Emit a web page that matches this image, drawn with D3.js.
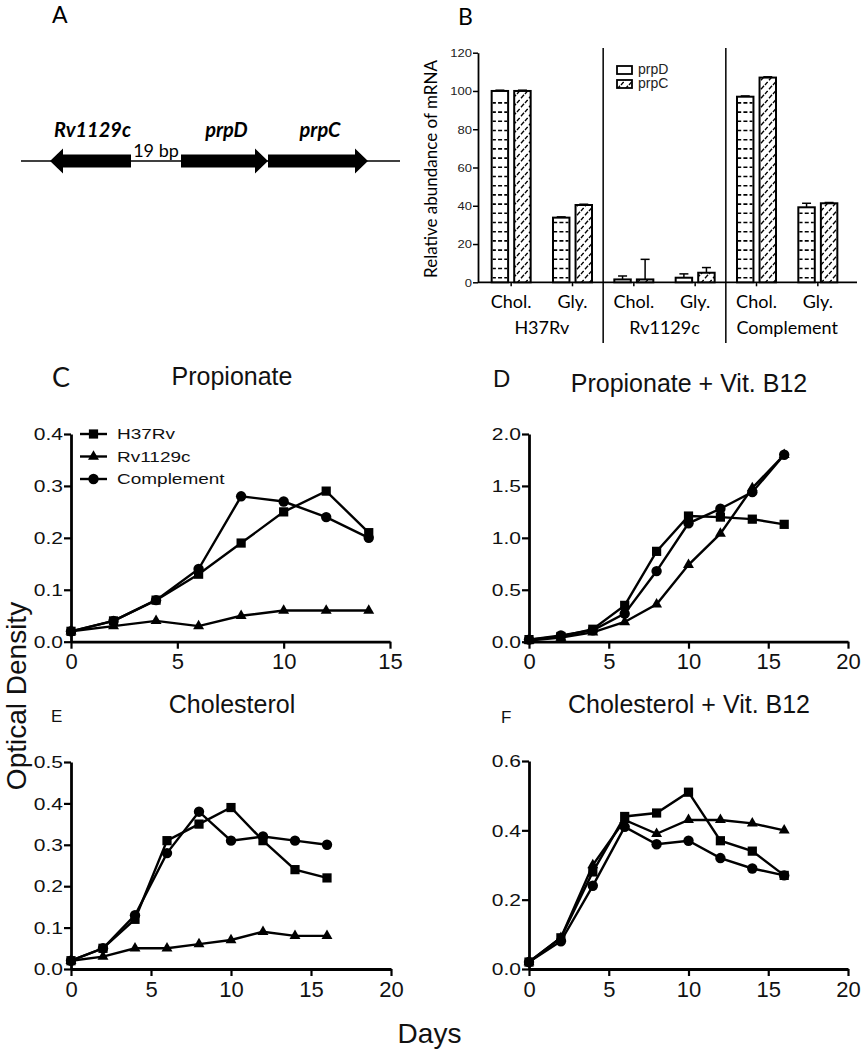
<!DOCTYPE html>
<html><head><meta charset="utf-8">
<script src="https://cdn.jsdelivr.net/npm/d3@7"></script>
<style>
body{margin:0;background:#fff}
svg{display:block}
</style></head><body>
<svg id="c" width="861" height="1050"></svg>
<script>
// ---------- DATA ----------
// Panel A: gene map (nominal positions, bp-like units)
const geneNames = ["Rv1129c","prpD","prpC"];
const geneStart = [29,160,247];
const geneEnd = [110,247,347];
const geneStrand = [-1,1,1];
const mapLength = 379;
const gapLabel = "19 bp";

// Panel B: relative mRNA abundance
const strains = ["H37Rv","Rv1129c","Complement"];
const conditions = ["Chol.","Gly."];
const barGenes = ["prpD","prpC"];
const prpDValues = [100, 33.8, 1.5, 2.4, 97, 39.2];
const prpCValues = [100, 40.4, 1.5, 5.0, 107, 41.3];
const prpDErr = [0.4, 0.4, 1.8, 2.0, 0.4, 2.1];
const prpCErr = [0.4, 0.4, 10.5, 2.7, 0.4, 0.4];
const mrnaTicks = [0,20,40,60,80,100,120];

// Panels C-F: optical density
const seriesNames = ["H37Rv","Rv1129c","Complement"];
const propDays = [0,2,4,6,8,10,12,14];
const propH37Rv = [0.02,0.04,0.08,0.13,0.19,0.25,0.29,0.21];
const propRv1129c = [0.02,0.03,0.04,0.03,0.05,0.06,0.06,0.06];
const propComplement = [0.02,0.04,0.08,0.14,0.28,0.27,0.24,0.20];

const propB12Days = [0,2,4,6,8,10,12,14,16];
const propB12H37Rv = [0.02,0.05,0.12,0.35,0.87,1.21,1.20,1.18,1.13];
const propB12Rv1129c = [0.01,0.04,0.09,0.19,0.36,0.74,1.04,1.48,1.80];
const propB12Complement = [0.02,0.06,0.11,0.27,0.68,1.14,1.28,1.44,1.80];

const cholDays = [0,2,4,6,8,10,12,14,16];
const cholH37Rv = [0.02,0.05,0.12,0.31,0.35,0.39,0.31,0.24,0.22];
const cholRv1129c = [0.02,0.03,0.05,0.05,0.06,0.07,0.09,0.08,0.08];
const cholComplement = [0.02,0.05,0.13,0.28,0.38,0.31,0.32,0.31,0.30];

const cholB12Days = [0,2,4,6,8,10,12,14,16];
const cholB12H37Rv = [0.02,0.09,0.28,0.44,0.45,0.51,0.37,0.34,0.27];
const cholB12Rv1129c = [0.02,0.09,0.30,0.43,0.39,0.43,0.43,0.42,0.40];
const cholB12Complement = [0.02,0.08,0.24,0.41,0.36,0.37,0.32,0.29,0.27];

const ticks15 = [0,5,10,15];
const ticks20 = [0,5,10,15,20];
const odTicksC = [0,0.1,0.2,0.3,0.4];
const odTicksD = [0,0.5,1.0,1.5,2.0];
const odTicksE = [0,0.1,0.2,0.3,0.4,0.5];
const odTicksF = [0,0.2,0.4,0.6];

// ---------- DRAW ----------
const svg = d3.select("#c");
const ARIAL = "'Liberation Sans', Arial, sans-serif";
const CAL = "Lato, 'Open Sans', sans-serif";

// ===== Panel A =====
(function(){
  const x = d3.scaleLinear().domain([0,mapLength]).range([21,400]);
  const yc = 161, bh = 6.5, hh = 12.5, hl = 13;
  svg.append("text").attr("x",52).attr("y",23).text("A")
    .style("font-family",CAL).style("font-size","23px");
  svg.append("line").attr("x1",x(0)).attr("x2",x(mapLength)).attr("y1",yc).attr("y2",yc)
    .attr("stroke","#000").attr("stroke-width",1.3);
  geneNames.forEach((n,i)=>{
    const s = x(geneStart[i]), e = x(geneEnd[i]);
    let pts;
    if (geneStrand[i] < 0) {
      pts = [[s,yc],[s+hl,yc-hh],[s+hl,yc-bh],[e,yc-bh],[e,yc+bh],[s+hl,yc+bh],[s+hl,yc+hh]];
    } else {
      pts = [[e,yc],[e-hl,yc-hh],[e-hl,yc-bh],[s,yc-bh],[s,yc+bh],[e-hl,yc+bh],[e-hl,yc+hh]];
    }
    svg.append("path").attr("d","M"+pts.map(p=>p.join(",")).join("L")+"Z").attr("fill","#000");
    svg.append("text").attr("x",(s+e)/2+2).attr("y",137).attr("text-anchor","middle")
      .style("font-family",CAL).style("font-size","20px").style("font-weight","bold").style("font-style","italic")
      .text(n);
  });
  svg.append("text").attr("x",(x(geneEnd[0])+x(geneStart[1]))/2).attr("y",157).attr("text-anchor","middle")
    .style("font-family",CAL).style("font-size","18px").text(gapLabel);
})();

// ===== Panel B =====
(function(){
  const cats = [];
  strains.forEach(s=>conditions.forEach(c=>cats.push(s+"|"+c)));
  const x0 = d3.scaleBand().domain(cats).range([480.5,848.5]).padding(0);
  const x1 = d3.scaleBand().domain(barGenes).range([-19.5,19.5]).paddingInner(0.27).paddingOuter(0);
  const y = d3.scaleLinear().domain([0,120]).range([282.3,52.7]);
  const g = svg.append("g");
  svg.append("text").attr("x",458).attr("y",25).text("B")
    .style("font-family",CAL).style("font-size","23px");

  // y axis
  const ya = g.append("g").attr("transform","translate(478,0)")
    .call(d3.axisLeft(y).tickValues(mrnaTicks).tickSize(5).tickSizeOuter(0));
  ya.select(".domain").attr("stroke-width",1.8);
  ya.selectAll(".tick line").attr("stroke-width",1.5);
  ya.selectAll(".tick text").attr("x",0).attr("dy","0.35em")
    .attr("transform","translate(-6,0) scale(1,0.86)")
    .style("font-family",ARIAL).style("font-size","13px").attr("fill","#222");
  // x axis
  g.append("line").attr("x1",478).attr("x2",857).attr("y1",y(0)).attr("y2",y(0))
    .attr("stroke","#000").attr("stroke-width",1.8);
  g.selectAll(null).data(cats).join("line")
    .attr("x1",d=>x0(d)+x0.bandwidth()/2).attr("x2",d=>x0(d)+x0.bandwidth()/2)
    .attr("y1",y(0)).attr("y2",y(0)+4).attr("stroke","#000").attr("stroke-width",1.5);

  // separators
  [2,4].forEach(k=>{
    const xs = x0(cats[k]);
    g.append("line").attr("x1",xs).attr("x2",xs).attr("y1",48).attr("y2",343)
      .attr("stroke","#000").attr("stroke-width",1.5);
  });

  // pattern for prpC
  const defs = svg.append("defs");
  const pat = defs.append("pattern").attr("id","diag").attr("patternUnits","userSpaceOnUse")
    .attr("width",8).attr("height",9);
  pat.append("rect").attr("width",8).attr("height",9).attr("fill","#fff");
  pat.append("line").attr("x1",1).attr("y1",8.2).attr("x2",4).attr("y2",4.8).attr("stroke","#000").attr("stroke-width",1.3);
  pat.append("line").attr("x1",5).attr("y1",4).attr("x2",7.6).attr("y2",1).attr("stroke","#000").attr("stroke-width",1.3);

  const vals = [prpDValues, prpCValues], errs = [prpDErr, prpCErr];
  barGenes.forEach((gn,gi)=>{
    cats.forEach((c,ci)=>{
      const bx = x0(c)+x0.bandwidth()/2 + x1(gn), bw = x1.bandwidth();
      const top = y(vals[gi][ci]), bot = y(0);
      const et = y(vals[gi][ci]+errs[gi][ci]);
      g.append("line").attr("x1",bx+bw/2).attr("x2",bx+bw/2).attr("y1",top).attr("y2",et)
        .attr("stroke","#000").attr("stroke-width",1.5);
      g.append("line").attr("x1",bx+bw/2-4.5).attr("x2",bx+bw/2+4.5).attr("y1",et).attr("y2",et)
        .attr("stroke","#000").attr("stroke-width",1.5);
      g.append("rect").attr("x",bx).attr("y",top).attr("width",bw).attr("height",bot-top)
        .attr("fill", gi===1 ? "url(#diag)" : "#fff").attr("stroke","#000").attr("stroke-width",2);
      if (gi===0) {
        const rows = d3.range(bot-4.6, top+3, -9.2);
        g.selectAll(null).data(rows).join("line")
          .attr("x1",bx+1).attr("x2",bx+bw-1).attr("y1",d=>d).attr("y2",d=>d)
          .attr("stroke","#000").attr("stroke-width",1.6).attr("stroke-dasharray","3.2,2.2,4,2.2,3.2");
      }
    });
  });

  // category labels
  g.selectAll(null).data(cats).join("text")
    .attr("x",d=>x0(d)+x0.bandwidth()/2).attr("y",308).attr("text-anchor","middle")
    .style("font-family",CAL).style("font-size","18px").text(d=>d.split("|")[1]);
  strains.forEach((s,i)=>{
    const a = x0(cats[i*2]), b = x0(cats[i*2+1])+x0.bandwidth();
    g.append("text").attr("x",(a+b)/2).attr("y",334).attr("text-anchor","middle")
      .style("font-family",CAL).style("font-size","18px").text(s);
  });
  g.append("text").attr("transform","translate(430,169) rotate(-90)").attr("text-anchor","middle")
    .attr("dominant-baseline","central")
    .style("font-family",CAL).style("font-size","17px").text("Relative abundance of mRNA");
  barGenes.forEach((gn,i)=>{
    const ly = 66 + i*14;
    g.append("rect").attr("x",617).attr("y",ly).attr("width",15).attr("height",8)
      .attr("fill", i===1 ? "url(#diag)" : "#fff").attr("stroke","#000").attr("stroke-width",1.8);
    g.append("text").attr("x",638).attr("y",ly+8).style("font-family",ARIAL).style("font-size","14px")
      .attr("fill","#222").text(gn);
  });
})();

// ===== Line panels =====
const symbolTypes = [d3.symbolSquare, d3.symbolTriangle, d3.symbolCircle];
const symbolSizes = [85, 52, 85];

function linePanel(p){
  const x = d3.scaleLinear().domain([0,p.xMax]).range([p.left,p.right]);
  const y = d3.scaleLinear().domain([0,p.yMax]).range([p.bottom,p.top]);
  const g = svg.append("g");
  const xa = g.append("g").attr("transform",`translate(0,${p.bottom})`)
    .call(d3.axisBottom(x).tickValues(p.xTicks).tickSize(7).tickPadding(5).tickSizeOuter(0));
  const ya = g.append("g").attr("transform",`translate(${p.left},0)`)
    .call(d3.axisLeft(y).tickValues(p.yTicks).tickFormat(d3.format(".1f")).tickSize(7).tickSizeOuter(0));
  [xa,ya].forEach(a=>{
    a.select(".domain").attr("stroke-width",2.8);
    a.selectAll(".tick line").attr("stroke-width",2.2);
  });
  xa.selectAll(".tick text").style("font-family",ARIAL).style("font-size","22px").attr("fill","#111");
  ya.selectAll(".tick text").attr("x",0).attr("dy","0.36em")
    .attr("transform","translate(-8,0) scale(1,0.76)")
    .style("font-family",ARIAL).style("font-size","21px").attr("fill","#111");

  const line = d3.line().x((d,j)=>x(p.days[j])).y(d=>y(d));
  p.series.forEach((vals,i)=>{
    g.append("path").datum(vals).attr("d",line).attr("fill","none")
      .attr("stroke","#000").attr("stroke-width",2.4);
  });
  p.series.forEach((vals,i)=>{
    g.selectAll(null).data(vals).join("path")
      .attr("transform",(d,j)=>`translate(${x(p.days[j])},${y(d)})`)
      .attr("d",d3.symbol(symbolTypes[i],symbolSizes[i])).attr("fill","#000");
  });
  g.append("text").attr("x",p.titleX).attr("y",p.titleY).attr("text-anchor","middle")
    .style("font-family",ARIAL).style("font-size","25px").attr("fill","#111").text(p.title);
  g.append("text").attr("x",p.labelX).attr("y",p.labelY)
    .style("font-family",p.labelFont).style("font-size",p.labelSize+"px").attr("fill","#111").text(p.label);
  if (p.legend) {
    seriesNames.forEach((n,i)=>{
      const ly = 434 + i*22.5;
      g.append("line").attr("x1",80).attr("x2",107).attr("y1",ly).attr("y2",ly)
        .attr("stroke","#000").attr("stroke-width",2.4);
      g.append("path").attr("transform",`translate(93.5,${ly})`)
        .attr("d",d3.symbol(symbolTypes[i],symbolSizes[i])).attr("fill","#000");
      g.append("text").attr("transform",`translate(117,${ly}) scale(1,0.77)`).attr("dy","0.36em")
        .style("font-family",ARIAL).style("font-size","19px").attr("fill","#111").text(n);
    });
  }
}

linePanel({left:71,right:390,top:434,bottom:641.7,xMax:15,yMax:0.4,xTicks:ticks15,yTicks:odTicksC,
  days:propDays,series:[propH37Rv,propRv1129c,propComplement],
  title:"Propionate",titleX:232,titleY:385,label:"C",labelX:52,labelY:387,labelFont:CAL,labelSize:27,legend:true});
linePanel({left:529,right:848,top:434,bottom:641.7,xMax:20,yMax:2.0,xTicks:ticks20,yTicks:odTicksD,
  days:propB12Days,series:[propB12H37Rv,propB12Rv1129c,propB12Complement],
  title:"Propionate + Vit. B12",titleX:689,titleY:392,label:"D",labelX:493,labelY:387,labelFont:ARIAL,labelSize:24});
linePanel({left:71,right:391,top:762,bottom:969,xMax:20,yMax:0.5,xTicks:ticks20,yTicks:odTicksE,
  days:cholDays,series:[cholH37Rv,cholRv1129c,cholComplement],
  title:"Cholesterol",titleX:232,titleY:713,label:"E",labelX:51,labelY:722,labelFont:ARIAL,labelSize:17});
linePanel({left:529,right:848,top:761,bottom:969,xMax:20,yMax:0.6,xTicks:ticks20,yTicks:odTicksF,
  days:cholB12Days,series:[cholB12H37Rv,cholB12Rv1129c,cholB12Complement],
  title:"Cholesterol + Vit. B12",titleX:689,titleY:713,label:"F",labelX:501,labelY:723,labelFont:ARIAL,labelSize:17});

// shared axis titles
svg.append("text").attr("transform","translate(16,696) rotate(-90)").attr("text-anchor","middle")
  .attr("dominant-baseline","central").style("font-family",ARIAL).style("font-size","28px").attr("fill","#111")
  .text("Optical Density");
svg.append("text").attr("x",429.5).attr("y",1043).attr("text-anchor","middle")
  .style("font-family",ARIAL).style("font-size","28px").attr("fill","#111").text("Days");
</script>
</body></html>
